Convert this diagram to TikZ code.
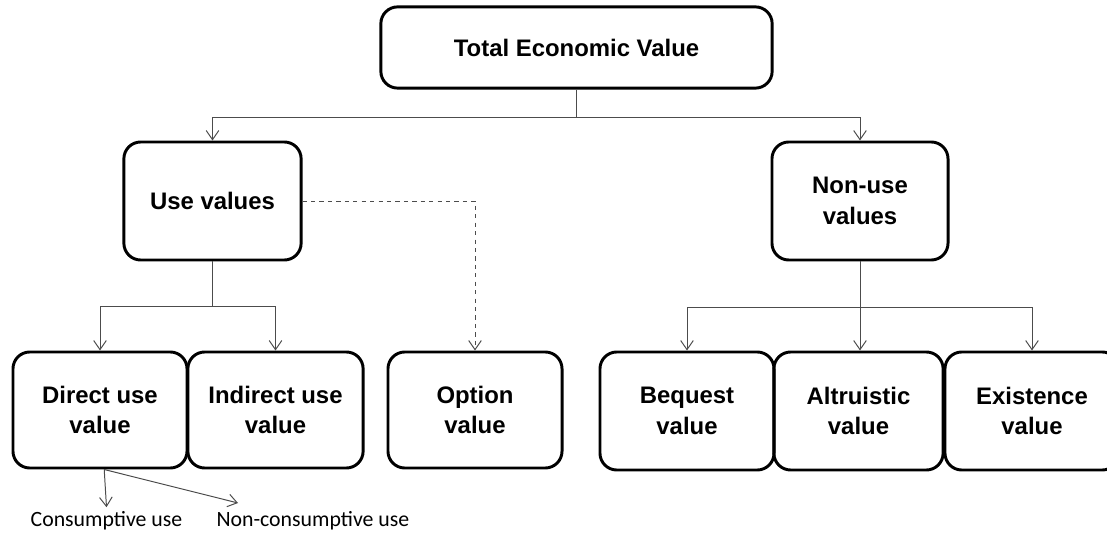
\documentclass[tikz,border=0pt]{standalone}
\usepackage{fontspec}
\setmainfont{Liberation Sans}
\newfontfamily\notefont{Carlito}
\usetikzlibrary{arrows.meta}

\tikzset{
  valbox/.style={draw, line width=2.1pt, rounded corners=0.42cm, align=center,
    inner sep=0pt, minimum width=4.35cm, minimum height=2.9cm,
    font=\bfseries\fontsize{17}{21.5}\selectfont},
  link/.style={line width=0.7pt, color=black!70},
  arr/.style={link, -{Straight Barb[length=6.5pt,width=9pt]}},
  note/.style={inner sep=3pt, font=\notefont\fontsize{15.5}{18}\selectfont}
}

\begin{document}
\begin{tikzpicture}[x=0.025cm, y=-0.025cm]
			%%%%% START %%%%%
			\clip (0, 0) rectangle (1107, 537);
			
			\node[valbox, minimum width=9.78cm, minimum height=2.03cm] (tev) at (576.5, 47.5) {Total Economic Value};
			
			\node[valbox, minimum width=4.43cm, minimum height=2.95cm] (use) at (212.5, 201) {Use values};
			\node[valbox, minimum width=4.4cm, minimum height=2.95cm] (nonuse) at (860, 201) {Non-use\\values};
			
			\node[valbox] (direct) at (100, 410) {Direct use\\value};
			\node[valbox, minimum width=4.38cm] (indirect) at (275.5, 410) {Indirect use\\value};
			\node[valbox] (option) at (475, 410) {Option\\value};
			
			\node[valbox, minimum height=2.95cm] (bequest) at (687, 411) {Bequest\\value};
			\node[valbox, minimum width=4.23cm, minimum height=2.95cm] (altru) at (858.5, 411) {Altruistic\\value};
			\node[valbox, minimum height=2.95cm] (exist) at (1032, 411) {Existence\\value};
			
			\node[note] (cons) at (106.5, 521) {Consumptive use};
			\node[note, anchor=west] (noncons) at (212, 521) {Non-consumptive use};
			\coordinate (ncend) at (238, 503);
			
			% top level
			\draw[link] (tev.south) -- ++(0, 28) coordinate (split);
			\draw[arr] (split) -| (use.north);
			\draw[arr] (split) -| (nonuse.north);
			
			% use values
			\draw[link] (use.south) -- ++(0, 45) coordinate (usplit);
			\draw[arr] (usplit) -| (direct.north);
			\draw[arr] (usplit) -| (indirect.north);
			\draw[arr, dashed] (use.east) -| (option.north);
			
			% non-use values
			\draw[link] (nonuse.south) -- ++(0, 46) coordinate (nsplit);
			\draw[arr] (nsplit) -| (bequest.north);
			\draw[arr] (nsplit) -- (nsplit |- altru.north);
			\draw[arr] (nsplit) -| (exist.north);
			
			% direct use
			\draw[arr] ([xshift=3]direct.south) -- (cons.north);
			\draw[arr] ([xshift=3]direct.south) -- (ncend);
			%%%%% END %%%%%
\end{tikzpicture}
\end{document}
